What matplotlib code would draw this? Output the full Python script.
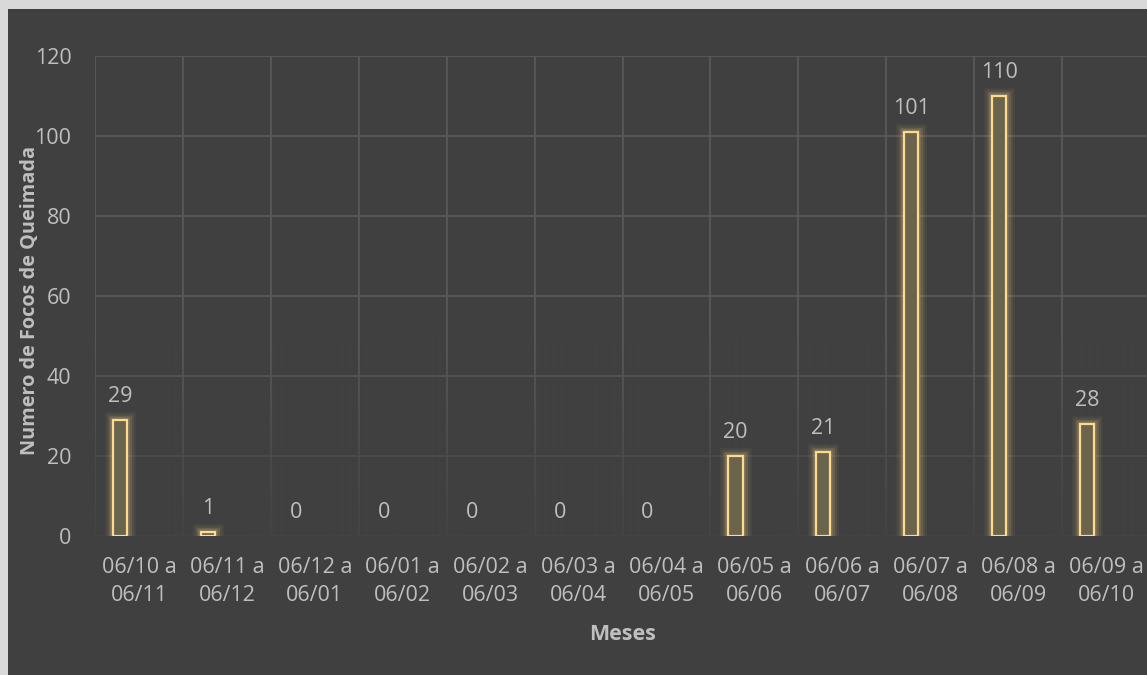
import numpy as np
import matplotlib.pyplot as plt
from matplotlib.patches import Rectangle

# data
periodos = ["06/10 a\n06/11", "06/11 a\n06/12", "06/12 a\n06/01", "06/01 a\n06/02",
            "06/02 a\n06/03", "06/03 a\n06/04", "06/04 a\n06/05", "06/05 a\n06/06",
            "06/06 a\n06/07", "06/07 a\n06/08", "06/08 a\n06/09", "06/09 a\n06/10"]
focos = [29, 1, 0, 0, 0, 0, 0, 20, 21, 101, 110, 28]
y_ticks = [0, 20, 40, 60, 80, 100, 120]

BG = "#404040"
BORDER = "#d9d9d9"
TXT = "#bfbfbf"
EDGE = "#ffd98c"
FILL = "#6b644c"
FS = 15.5

plt.rcParams["font.family"] = ["Open Sans", "DejaVu Sans"]

W, H = 1147, 675
fig = plt.figure(figsize=(W / 100, H / 100), dpi=100, facecolor=BG)
# light frame on the top and left edges
fig.patches.append(Rectangle((0, 0), 8 / W, 1, transform=fig.transFigure,
                             facecolor=BORDER, edgecolor="none"))
fig.patches.append(Rectangle((0, 1 - 9 / H), 1, 9 / H, transform=fig.transFigure,
                             facecolor=BORDER, edgecolor="none"))

ax = fig.add_axes([95 / W, 1 - 536 / H, (1150 - 95) / W, 480 / H])
ax.set_facecolor(BG)
for s in ax.spines.values():
    s.set_visible(False)

x = np.arange(len(focos))
offset = -0.215
width = 0.16


def widths(lw):
    # zero-height bars show nothing, like the spreadsheet does
    return [lw if v > 0 else 0 for v in focos]


# grid: horizontal at major ticks, vertical at category boundaries
ax.set_yticks(y_ticks)
ax.set_xticks(x)
ax.set_xticks(np.arange(len(focos) + 1) - 0.5, minor=True)
ax.set_axisbelow(True)
ax.grid(axis="y", which="major", color="#595959", linewidth=1.3)
ax.grid(axis="x", which="minor", color="#595959", linewidth=1.3)
ax.grid(axis="x", which="major", visible=False)

# fade the grid toward the bottom
grad = np.zeros((100, 2, 4))
grad[..., :3] = np.array([0x40, 0x40, 0x40]) / 255
grad[..., 3] = np.linspace(0.85, 0.0, 100)[:, None]
ax.imshow(grad, extent=(-0.5, len(focos) - 0.5, 0, 50), origin="lower",
          aspect="auto", zorder=1, interpolation="bilinear")

# glow
for lw, a in [(12, 0.05), (9, 0.07), (6.5, 0.1), (4, 0.15)]:
    ax.bar(x + offset, focos, width, facecolor="none", edgecolor=EDGE,
           linewidth=widths(lw), alpha=a, zorder=2)
bars = ax.bar(x + offset, focos, width, facecolor=FILL, edgecolor=EDGE,
              linewidth=widths(1.6), zorder=3)
ax.bar_label(bars, labels=[str(v) for v in focos], padding=9, color=TXT,
             fontsize=FS, zorder=4)

ax.set_xlim(-0.5, len(focos) - 0.5)
ax.set_ylim(0, 120)

ax.set_xticklabels(periodos, fontsize=FS, color=TXT, linespacing=1.45)
ax.tick_params(axis="x", which="both", length=0, pad=15)
ax.tick_params(axis="y", which="both", length=0, pad=17, labelsize=FS,
               labelcolor=TXT)

ax.set_xlabel("Meses", fontsize=FS, fontweight="bold", color=TXT, labelpad=13)
ax.set_ylabel("Numero de Focos de Queimada", fontsize=14.3, fontweight="bold",
              color=TXT)
ax.yaxis.set_label_coords(-0.052, 0.49)

fig.savefig("out.png", dpi=100, facecolor=fig.get_facecolor())
